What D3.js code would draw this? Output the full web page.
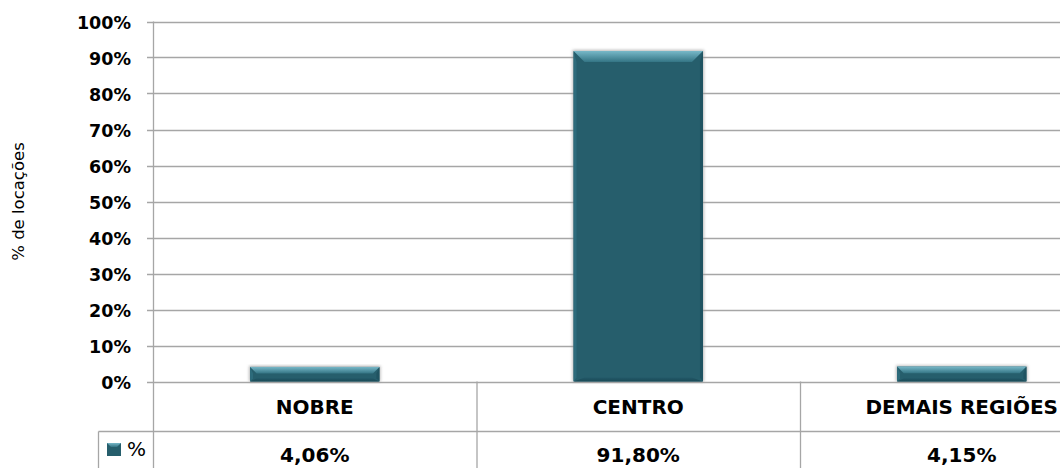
<!DOCTYPE html>
<html>
<head>
<meta charset="utf-8">
<script src="https://cdn.jsdelivr.net/npm/d3@7"></script>
<style>
  html, body { margin: 0; padding: 0; background: #fff; }
  svg { display: block; }
</style>
</head>
<body>
<svg id="chart" width="1060" height="468"></svg>
<script>
// ---- data ----
const categories = ["NOBRE", "CENTRO", "DEMAIS REGIÕES"];
const values = [4.06, 91.80, 4.15];
const valueLabels = ["4,06%", "91,80%", "4,15%"];
const yTicks = [0, 10, 20, 30, 40, 50, 60, 70, 80, 90, 100];
const seriesName = "%";
const yTitle = "% de locações";

// ---- layout ----
const W = 1060, H = 468;
const plotLeft = 153, plotTop = 21.5, plotBottom = 381.5;
const bandW = 323.5;
const tableMid = 431.5;
const tableLeft = 98.5;

const svg = d3.select("#chart");
const gridColor = "#a6a6a6";

const x = d3.scaleBand().domain(categories)
  .range([plotLeft, plotLeft + bandW * categories.length]).padding(0);
const y = d3.scaleLinear().domain([0, 100]).range([plotBottom, plotTop]);

const defs = svg.append("defs");
const gTop = defs.append("linearGradient").attr("id", "gTop").attr("x1", 0).attr("y1", 0).attr("x2", 0).attr("y2", 1);
gTop.append("stop").attr("offset", "0%").attr("stop-color", "#78b8c8");
gTop.append("stop").attr("offset", "100%").attr("stop-color", "#347585");
const gBot = defs.append("linearGradient").attr("id", "gBot").attr("x1", 0).attr("y1", 0).attr("x2", 0).attr("y2", 1);
gBot.append("stop").attr("offset", "0%").attr("stop-color", "#225868");
gBot.append("stop").attr("offset", "100%").attr("stop-color", "#1a4a56");
const shadow = defs.append("filter").attr("id", "shadow").attr("x", "-10%").attr("y", "-10%").attr("width", "120%").attr("height", "120%");
shadow.append("feGaussianBlur").attr("stdDeviation", 1.5);

// gridlines + ticks
const grid = svg.append("g");
grid.selectAll("line").data(yTicks).join("line")
  .attr("x1", plotLeft - 6).attr("x2", W)
  .attr("y1", d => Math.round(y(d)) + 0.5).attr("y2", d => Math.round(y(d)) + 0.5)
  .attr("stroke", gridColor).attr("stroke-width", 1.3);

// y axis line (extends through table)
svg.append("line").attr("x1", plotLeft + 0.5).attr("x2", plotLeft + 0.5)
  .attr("y1", plotTop).attr("y2", H).attr("stroke", gridColor).attr("stroke-width", 1.3);

// table lines
const tbl = svg.append("g").attr("stroke", gridColor).attr("stroke-width", 1.3);
tbl.append("line").attr("x1", tableLeft).attr("x2", W).attr("y1", tableMid).attr("y2", tableMid);
tbl.append("line").attr("x1", tableLeft).attr("x2", tableLeft).attr("y1", tableMid).attr("y2", H);
tbl.selectAll("line.div").data(categories.slice(1)).join("line").attr("class", "div")
  .attr("x1", d => x(d) + 0.5).attr("x2", d => x(d) + 0.5)
  .attr("y1", plotBottom).attr("y2", H);

// y tick labels
svg.append("g").selectAll("text").data(yTicks).join("text")
  .attr("x", 131).attr("y", d => y(d) + 7)
  .attr("text-anchor", "end")
  .attr("font-family", "DejaVu Sans").attr("font-weight", "bold").attr("font-size", 17.5)
  .attr("fill", "#000")
  .text(d => d + "%");

// y title
svg.append("text")
  .attr("transform", `translate(24,${(plotTop + plotBottom) / 2}) rotate(-90)`)
  .attr("text-anchor", "middle")
  .attr("font-family", "DejaVu Sans").attr("font-size", 16.5)
  .attr("fill", "#000")
  .text(yTitle);

// bars
const barW = bandW * 0.4;
const bars = svg.append("g");
categories.forEach((c, i) => {
  const cx = x(c) + x.bandwidth() / 2;
  const x0 = cx - barW / 2, x1 = cx + barW / 2;
  const y0 = y(values[i]), y1 = y(0);
  const h = y1 - y0;
  const g = bars.append("g");
  g.append("rect").attr("x", x0 - 1).attr("y", y0 - 1).attr("width", barW + 2).attr("height", h + 1)
    .attr("fill", "#9a9a9a").attr("filter", "url(#shadow)").attr("opacity", 0.7);
  g.append("rect").attr("x", x0).attr("y", y0).attr("width", barW).attr("height", h).attr("fill", "#265e6c");
  const bt = Math.min(11, h * 0.45);
  const bb = Math.min(4, h * 0.22);
  const bs = Math.min(3, barW * 0.1);
  // left side
  g.append("polygon").attr("points", [[x0, y0], [x0 + bs, y0 + bt], [x0 + bs, y1 - bb], [x0, y1]].join(" ")).attr("fill", "#2d6b7b");
  // right side
  g.append("polygon").attr("points", [[x1, y0], [x1 - bs, y0 + bt], [x1 - bs, y1 - bb], [x1, y1]].join(" ")).attr("fill", "#1f5361");
  // bottom
  g.append("polygon").attr("points", [[x0, y1], [x1, y1], [x1 - bt, y1 - bb], [x0 + bt, y1 - bb]].join(" ")).attr("fill", "url(#gBot)");
  // top
  g.append("polygon").attr("points", [[x0, y0], [x1, y0], [x1 - bt, y0 + bt], [x0 + bt, y0 + bt]].join(" ")).attr("fill", "url(#gTop)");
});

// category labels
svg.append("g").selectAll("text").data(categories).join("text")
  .attr("x", d => x(d) + x.bandwidth() / 2).attr("y", 414)
  .attr("text-anchor", "middle")
  .attr("font-family", "DejaVu Sans").attr("font-weight", "bold").attr("font-size", 20)
  .attr("fill", "#000")
  .text(d => d);

// value labels
svg.append("g").selectAll("text").data(valueLabels).join("text")
  .attr("x", (d, i) => x(categories[i]) + x.bandwidth() / 2).attr("y", 462)
  .attr("text-anchor", "middle")
  .attr("font-family", "DejaVu Sans").attr("font-weight", "bold").attr("font-size", 20)
  .attr("fill", "#000")
  .text(d => d);

// legend key
const lg = svg.append("g");
lg.append("rect").attr("x", 107).attr("y", 443).attr("width", 14).attr("height", 13).attr("fill", "#265e6c");
lg.append("polygon").attr("points", [[107, 443], [121, 443], [117, 447], [111, 447]].join(" ")).attr("fill", "url(#gTop)");
lg.append("text").attr("x", 127).attr("y", 456)
  .attr("font-family", "DejaVu Sans").attr("font-size", 20).attr("fill", "#000")
  .text(seriesName);
</script>
</body>
</html>
